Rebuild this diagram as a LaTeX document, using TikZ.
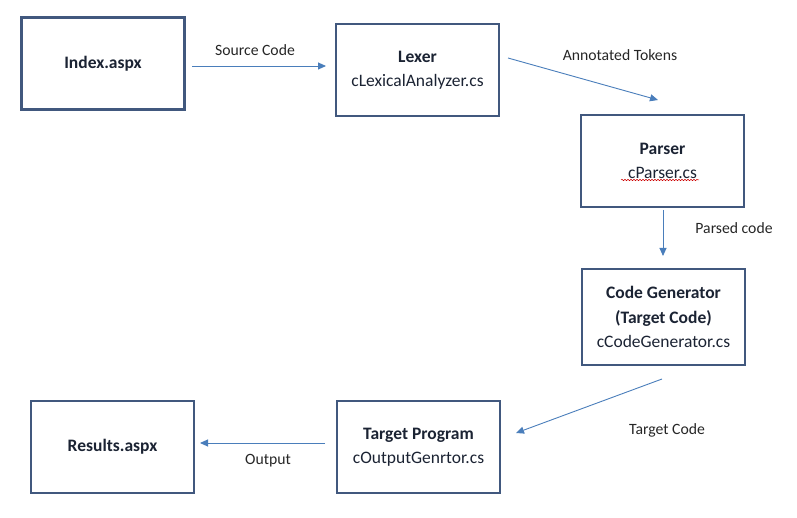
\documentclass[tikz,border=0pt]{standalone}
\usepackage{fontspec}
\setmainfont{Carlito}
\usetikzlibrary{arrows.meta,decorations.pathmorphing}
\definecolor{boxline}{HTML}{41587E}
\definecolor{arrowc}{HTML}{4A7EBB}
\definecolor{boxtext}{HTML}{1B2333}
\begin{document}
\begin{tikzpicture}[x=1bp,y=-1bp,
  stagebox/.style={draw=boxline,line width=2.6bp,minimum width=163bp,minimum height=92bp,inner sep=0pt,align=center,text=boxtext,font=\fontsize{17.5bp}{24.5bp}\selectfont},
  flow/.style={draw=arrowc,line width=0.9bp,-{Triangle[length=8bp,width=7bp]}},
  lbl/.style={font=\fontsize{15.7bp}{19bp}\selectfont,text=black!85}]
\useasboundingbox (0,0) rectangle (797,518);
\node[stagebox] (index) at (103,63.5) {\textbf{Index.aspx}};
\node[stagebox] (lexer) at (417.5,70) {\textbf{Lexer}\\cLexicalAnalyzer.cs};
\node[stagebox] (parser) at (662.5,161) {\textbf{Parser}\\cParser.cs};
\node[stagebox,minimum height=96bp] (codegen) at (663.5,317) {\textbf{Code Generator}\\\textbf{(Target Code)}\\cCodeGenerator.cs};
\node[stagebox] (target) at (418.5,447) {\textbf{Target Program}\\cOutputGenrtor.cs};
\node[stagebox] (results) at (112.5,447) {\textbf{Results.aspx}};
\coordinate (a1s) at (192,66); \coordinate (a1e) at (326,66);
\coordinate (a2s) at (508,58); \coordinate (a2e) at (658,100);
\coordinate (a3s) at (663,210); \coordinate (a3e) at (663,256);
\coordinate (a4s) at (662,379); \coordinate (a4e) at (516,433);
\coordinate (a5s) at (325,443); \coordinate (a5e) at (200,443);
\draw[flow] (a1s) -- (a1e);
\draw[flow] (a2s) -- (a2e);
\draw[flow] (a3s) -- (a3e);
\draw[flow] (a4s) -- (a4e);
\draw[flow] (a5s) -- (a5e);
\node[lbl] (l1) at (255,50) {Source Code};
\node[lbl] (l2) at (620,55) {Annotated Tokens};
\node[lbl] (l3) at (734,228) {Parsed code};
\node[lbl] (l4) at (667,430) {Target Code};
\node[lbl] (l5) at (268,461) {Output};
\coordinate (w1) at (621,180); \coordinate (w2) at (699,180);
\draw[red!80!black,line width=0.5bp,decorate,decoration={snake,amplitude=0.7bp,segment length=3bp}] (w1) -- (w2);
\end{tikzpicture}
\end{document}
